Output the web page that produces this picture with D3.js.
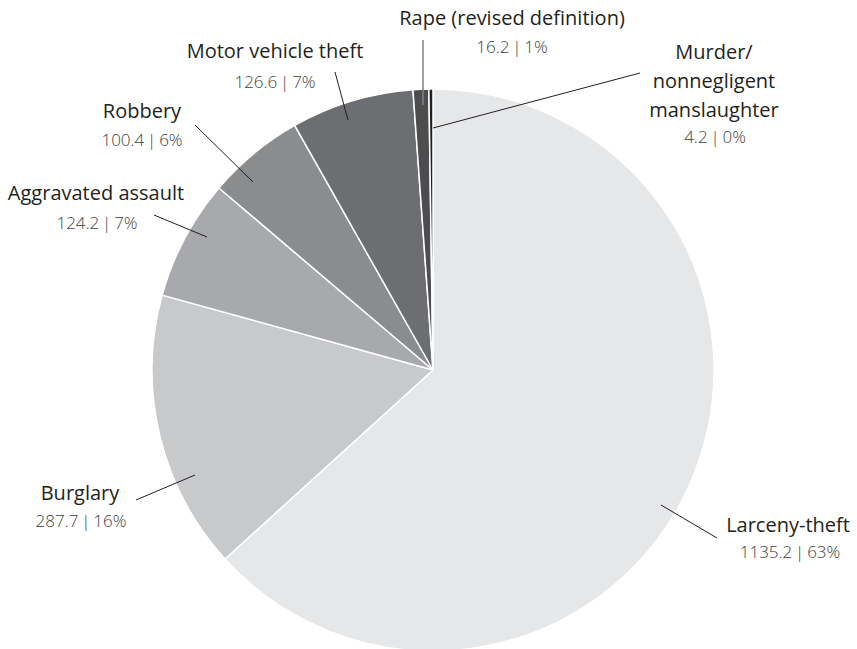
<!DOCTYPE html>
<html>
<head>
<meta charset="utf-8">
<script src="https://cdn.jsdelivr.net/npm/d3@7"></script>
<style>
  body { margin: 0; background: #fff; }
  svg text { font-family: "Open Sans", Lato, sans-serif; }
</style>
</head>
<body>
<div id="chart"></div>
<script>
// crime rates per 100,000 by offense
const categories = [
  "Larceny-theft",
  "Burglary",
  "Aggravated assault",
  "Robbery",
  "Motor vehicle theft",
  "Rape (revised definition)",
  "Murder/nonnegligent manslaughter"
];
const values = [1135.2, 287.7, 124.2, 100.4, 126.6, 16.2, 4.2];
const sliceColors = ["#e6e7e8", "#c8c9cb", "#a7a9ac", "#8a8c8e", "#6d6e71", "#4d4d4f", "#231f20"];

// label placement (lines of name, anchor positions, leader line ends)
const labelLayout = [
  { lines: ["Larceny-theft"], x: 788, y: 532, vx: 790, vy: 558, leader: [[661, 505], [717, 538]] },
  { lines: ["Burglary"], x: 80, y: 500, vx: 81, vy: 527, leader: [[195, 475], [136, 500]] },
  { lines: ["Aggravated assault"], x: 96, y: 200, vx: 97, vy: 229, leader: [[207, 237], [154, 215]] },
  { lines: ["Robbery"], x: 142, y: 118, vx: 142, vy: 146, leader: [[253, 182], [195, 125]] },
  { lines: ["Motor vehicle theft"], x: 275, y: 58, vx: 275, vy: 88, leader: [[348, 120], [335, 72]] },
  { lines: ["Rape (revised definition)"], x: 512, y: 25, vx: 512, vy: 53, leader: [[423, 105], [423, 40]] },
  { lines: ["Murder/", "nonnegligent", "manslaughter"], x: 714, y: 59, vx: 715, vy: 143, leader: [[433, 128], [640, 73]] }
];

const width = 857, height = 649;
const cx = 433, cy = 370, radius = 281;

const data = categories.map((c, i) => ({ name: c, value: values[i], color: sliceColors[i], layout: labelLayout[i] }));
const total = d3.sum(values);

const svg = d3.select("#chart")
  .append("svg")
  .attr("width", width)
  .attr("height", height);

const pie = d3.pie()
  .sort(null)
  .value(d => d.value);

const arc = d3.arc()
  .innerRadius(0)
  .outerRadius(radius);

const g = svg.append("g")
  .attr("transform", `translate(${cx},${cy})`);

g.selectAll("path")
  .data(pie(data))
  .enter()
  .append("path")
  .attr("d", arc)
  .attr("fill", d => d.data.color)
  .attr("stroke", "#fff")
  .attr("stroke-width", 1.5)
  .attr("stroke-linejoin", "round");

// leader lines
svg.selectAll("line.leader")
  .data(data)
  .enter()
  .append("line")
  .attr("class", "leader")
  .attr("x1", d => d.layout.leader[0][0])
  .attr("y1", d => d.layout.leader[0][1])
  .attr("x2", d => d.layout.leader[1][0])
  .attr("y2", d => d.layout.leader[1][1])
  .attr("stroke", d => d.name.startsWith("Rape") ? "#808285" : "#231f20")
  .attr("stroke-width", d => d.name.startsWith("Rape") ? 1.5 : 1);

// labels
const labels = svg.selectAll("g.label")
  .data(data)
  .enter()
  .append("g")
  .attr("class", "label");

labels.each(function (d) {
  const sel = d3.select(this);
  d.layout.lines.forEach((line, i) => {
    sel.append("text")
      .attr("x", d.layout.x)
      .attr("y", d.layout.y + i * 29)
      .attr("text-anchor", "middle")
      .attr("font-size", 20)
      .attr("fill", "#231f20")
      .text(line);
  });
  const pct = Math.round(d.value / total * 100);
  sel.append("text")
    .attr("x", d.layout.vx)
    .attr("y", d.layout.vy)
    .attr("text-anchor", "middle")
    .attr("font-size", 17)
    .attr("font-weight", 300)
    .attr("fill", "#414042")
    .text(`${d.value.toFixed(1)}\u2009|\u2009${pct}%`);
});
</script>
</body>
</html>
